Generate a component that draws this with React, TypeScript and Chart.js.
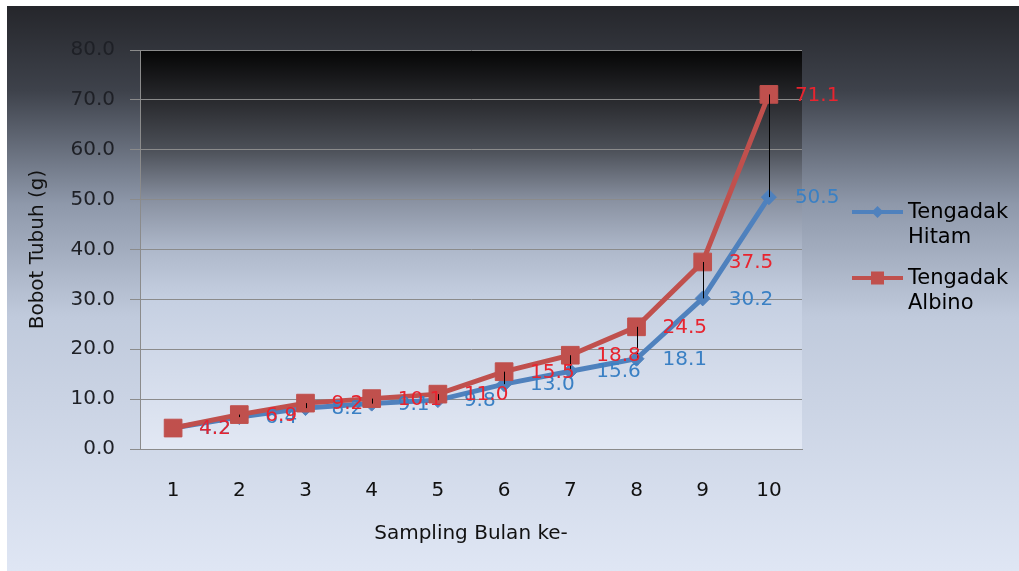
import React, { useEffect, useRef } from "react";
import { Chart, registerables } from "chart.js";

Chart.register(...registerables);

const categories = ["1", "2", "3", "4", "5", "6", "7", "8", "9", "10"];
const hitamValues = [4.2, 6.4, 8.2, 9.1, 9.8, 13.0, 15.6, 18.1, 30.2, 50.5];
const albinoValues = [4.2, 6.9, 9.2, 10.1, 11.0, 15.5, 18.8, 24.5, 37.5, 71.1];
const seriesLabels = ["Tengadak Hitam", "Tengadak Albino"];
const xTitle = "Sampling Bulan ke-";
const yTitle = "Bobot Tubuh (g)";
const yMin = 0;
const yMax = 80;
const yStep = 10;

const FONT = "'DejaVu Sans', Verdana, sans-serif";
const BLUE = "#4F81BD";
const RED = "#C0504D";
const BLUE_LABEL = "#3A80C4";
const RED_LABEL = "#E8242F";

const bgPlugin = {
  id: "bgPlugin",
  beforeDraw(chart: any) {
    const { ctx, width, height, chartArea } = chart;
    ctx.save();
    const g = ctx.createLinearGradient(0, 0, 0, height);
    g.addColorStop(0, "#25262b");
    g.addColorStop(0.15, "#3e424b");
    g.addColorStop(0.35, "#8e98aa");
    g.addColorStop(0.55, "#c0cadc");
    g.addColorStop(1, "#dfe6f4");
    ctx.fillStyle = g;
    ctx.fillRect(0, 0, width, height);
    const { left, top, right, bottom } = chartArea;
    const g2 = ctx.createLinearGradient(0, top, 0, bottom);
    g2.addColorStop(0, "#050505");
    g2.addColorStop(0.13, "#2a2b2f");
    g2.addColorStop(0.25, "#4c5058");
    g2.addColorStop(0.38, "#8a92a2");
    g2.addColorStop(0.5, "#aeb8ca");
    g2.addColorStop(0.63, "#c6d0e2");
    g2.addColorStop(1, "#e2e8f4");
    ctx.fillStyle = g2;
    ctx.fillRect(left, top, right - left, bottom - top);
    ctx.restore();
  },
};

const overlayPlugin = {
  id: "overlayPlugin",
  afterDatasetsDraw(chart: any) {
    const { ctx } = chart;
    const xs = chart.scales.x;
    const ys = chart.scales.y;
    ctx.save();
    // high-low lines
    ctx.strokeStyle = "#000000";
    ctx.lineWidth = 1;
    for (let i = 0; i < categories.length; i++) {
      const x = Math.round(xs.getPixelForValue(i)) + 0.5;
      const y1 = ys.getPixelForValue(albinoValues[i]);
      const y2 = ys.getPixelForValue(hitamValues[i]);
      ctx.beginPath();
      ctx.moveTo(x, y1);
      ctx.lineTo(x, y2);
      ctx.stroke();
    }
    // data labels
    ctx.font = `20px ${FONT}`;
    ctx.textAlign = "left";
    ctx.textBaseline = "middle";
    const series = [
      { vals: hitamValues, color: BLUE_LABEL },
      { vals: albinoValues, color: RED_LABEL },
    ];
    for (const s of series) {
      ctx.fillStyle = s.color;
      s.vals.forEach((v, i) => {
        const x = xs.getPixelForValue(i) + 26;
        const y = ys.getPixelForValue(v) + 1;
        ctx.fillText(v.toFixed(1), x, y);
      });
    }
    ctx.restore();
  },
  afterDraw(chart: any) {
    const { ctx } = chart;
    ctx.save();
    const entries = [
      { label: seriesLabels[0], color: BLUE, style: "diamond", y: 206 },
      { label: seriesLabels[1], color: RED, style: "square", y: 272 },
    ];
    for (const e of entries) {
      ctx.strokeStyle = e.color;
      ctx.lineWidth = 4;
      ctx.beginPath();
      ctx.moveTo(845, e.y);
      ctx.lineTo(896, e.y);
      ctx.stroke();
      ctx.fillStyle = e.color;
      const cx = 870.5;
      if (e.style === "diamond") {
        ctx.beginPath();
        ctx.moveTo(cx, e.y - 6);
        ctx.lineTo(cx + 6, e.y);
        ctx.lineTo(cx, e.y + 6);
        ctx.lineTo(cx - 6, e.y);
        ctx.closePath();
        ctx.fill();
      } else {
        ctx.fillRect(cx - 6.5, e.y - 6.5, 13, 13);
      }
      ctx.fillStyle = "#000000";
      ctx.font = `21px ${FONT}`;
      ctx.textAlign = "left";
      ctx.textBaseline = "middle";
      const lines = e.label.split(" ");
      lines.forEach((ln, k) => ctx.fillText(ln, 901, e.y + 1 + k * 25));
    }
    ctx.restore();
  },
};

export default function App() {
  const ref = useRef<HTMLCanvasElement | null>(null);
  useEffect(() => {
    document.body.style.margin = "0";
    if (!ref.current) return;
    const chart = new Chart(ref.current, {
      type: "line",
      data: {
        labels: categories,
        datasets: [
          {
            label: seriesLabels[0],
            data: hitamValues,
            borderColor: BLUE,
            backgroundColor: BLUE,
            borderWidth: 5,
            pointStyle: "rectRot",
            pointRadius: 7.5,
            pointBorderWidth: 1,
            pointBackgroundColor: BLUE,
            pointBorderColor: BLUE,
            order: 1,
            tension: 0,
          },
          {
            label: seriesLabels[1],
            data: albinoValues,
            borderColor: RED,
            backgroundColor: RED,
            borderWidth: 5,
            pointStyle: "rect",
            pointRadius: 12.5,
            pointBorderWidth: 1,
            pointBackgroundColor: RED,
            pointBorderColor: RED,
            order: 0,
            tension: 0,
          },
        ],
      },
      options: {
        responsive: false,
        animation: false,
        layout: { padding: { top: 44, right: 217, bottom: 22, left: 0 } },
        plugins: {
          legend: { display: false },
          title: { display: false },
          tooltip: { enabled: false },
        },
        scales: {
          x: {
            type: "category",
            offset: true,
            grid: { display: false },
            border: { display: true, color: "#8b8b8b", width: 1 },
            ticks: {
              padding: 22,
              color: "#111111",
              font: { family: FONT, size: 20 },
              maxRotation: 0,
            },
            title: {
              display: true,
              text: xTitle,
              color: "#111111",
              font: { family: FONT, size: 20 },
              padding: { top: 0, bottom: 3 },
            },
            afterFit(scale: any) {
              scale.height = 100;
            },
          },
          y: {
            min: yMin,
            max: yMax,
            ticks: {
              stepSize: yStep,
              padding: 15,
              color: "#1e2026",
              font: { family: FONT, size: 20 },
              callback: (v: any) => Number(v).toFixed(1),
            },
            grid: {
              color: "#8b8b8b",
              lineWidth: 1,
              tickLength: 10,
              drawTicks: true,
            },
            border: { display: true, color: "#8b8b8b", width: 1 },
            title: {
              display: true,
              text: yTitle,
              color: "#111111",
              font: { family: FONT, size: 20 },
              padding: { top: 19, bottom: 0 },
            },
            afterFit(scale: any) {
              scale.width = 133;
            },
          },
        },
      },
      plugins: [bgPlugin, overlayPlugin],
    } as any);
    return () => chart.destroy();
  }, []);

  return (
    <div
      style={{
        position: "absolute",
        left: 0,
        top: 0,
        width: 1019,
        height: 571,
        background: "#ffffff",
        overflow: "hidden",
      }}
    >
      <canvas
        ref={ref}
        width={1012}
        height={565}
        style={{ position: "absolute", left: 7, top: 6, width: 1012, height: 565, display: "block" }}
      />
    </div>
  );
}
